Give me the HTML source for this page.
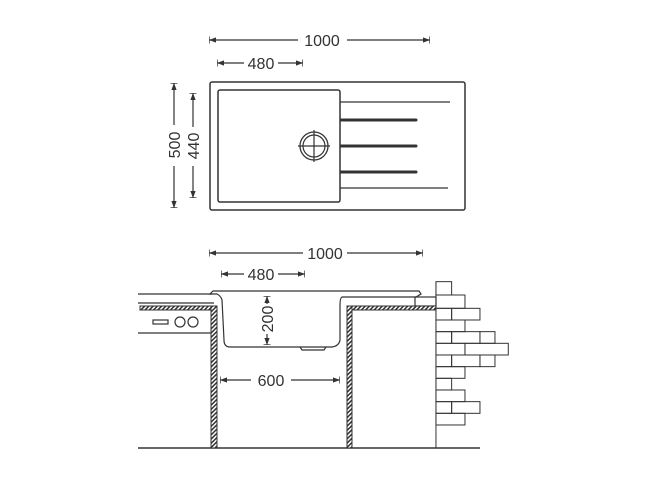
<!DOCTYPE html>
<html><head><style>body{margin:0;background:#fff}svg{display:block}text{font-family:"Liberation Sans",sans-serif;font-size:16px;fill:#333}</style></head><body>
<svg width="650" height="500" viewBox="0 0 650 500" xmlns="http://www.w3.org/2000/svg">
<defs>
<pattern id="h" width="3" height="3" patternUnits="userSpaceOnUse" patternTransform="rotate(45)"><rect width="3" height="3" fill="#fff"/><rect width="1.5" height="3" fill="#333"/></pattern>
<marker id="a" viewBox="0 0 8 8" refX="8" refY="4" markerWidth="6" markerHeight="6" orient="auto-start-reverse"><path d="M0,1 L8,4 L0,7z" fill="#333"/><path d="M8,0 V8" stroke="#333" stroke-width="1.5"/></marker>
</defs>
<g stroke="#333" stroke-width="1.2" fill="none">
<line x1="209" y1="40" x2="298" y2="40" marker-start="url(#a)"/><line x1="347" y1="40" x2="430" y2="40" marker-end="url(#a)"/>
<line x1="217" y1="63" x2="244" y2="63" marker-start="url(#a)"/><line x1="278" y1="63" x2="303" y2="63" marker-end="url(#a)"/>
<line x1="174" y1="83" x2="174" y2="125" marker-start="url(#a)"/><line x1="174" y1="166" x2="174" y2="208" marker-end="url(#a)"/>
<line x1="193" y1="93" x2="193" y2="127" marker-start="url(#a)"/><line x1="193" y1="166" x2="193" y2="198" marker-end="url(#a)"/>
<rect x="210" y="82" width="255" height="128" rx="2" stroke-width="1.5"/>
<rect x="218" y="90" width="122" height="112" rx="2" stroke-width="1.5"/>
<circle cx="314" cy="146" r="14" stroke-width="1.3"/><circle cx="314" cy="146" r="11"/>
<line x1="298" y1="146" x2="330" y2="146"/><line x1="314" y1="130" x2="314" y2="162"/>
<line x1="340" y1="102" x2="450" y2="102"/><line x1="340" y1="188" x2="448" y2="188"/>
<g stroke-width="3" stroke-linecap="round"><line x1="341" y1="120" x2="416" y2="120"/><line x1="341" y1="146" x2="416" y2="146"/><line x1="341" y1="172" x2="416" y2="172"/></g>
<line x1="209" y1="253" x2="303" y2="253" marker-start="url(#a)"/><line x1="347" y1="253" x2="423" y2="253" marker-end="url(#a)"/>
<line x1="221" y1="274" x2="244" y2="274" marker-start="url(#a)"/><line x1="278" y1="274" x2="305" y2="274" marker-end="url(#a)"/>
<line x1="267" y1="296" x2="267" y2="304" marker-start="url(#a)"/><line x1="267" y1="334" x2="267" y2="345" marker-end="url(#a)"/>
<line x1="220" y1="380" x2="251" y2="380" marker-start="url(#a)"/><line x1="291" y1="380" x2="340" y2="380" marker-end="url(#a)"/>
<line x1="138" y1="294" x2="212" y2="294"/><line x1="138" y1="303" x2="214" y2="303"/><line x1="138" y1="333" x2="212" y2="333"/>
<line x1="138" y1="448" x2="480" y2="448" stroke-width="1.5"/>
<rect x="153" y="320" width="15" height="4"/><circle cx="180" cy="322" r="5"/><circle cx="193" cy="322" r="5"/>
<path d="M210,294 L213,291 L419,291 L421,294 L416,297 L342,297 Q340,298 340,305 L340,340 Q339,346 332,347 L230,347 Q224,347 224,340 L222,300 Q221,296 217,294 Z"/>
<path d="M300,347 L302,350 L324,350 L326,347"/>
<rect x="415" y="297" width="21" height="9"/>
</g>
<g stroke="#333" stroke-width="1">
<rect x="140" y="306" width="72" height="4" fill="url(#h)"/>
<rect x="211" y="306" width="6" height="142" fill="url(#h)"/>
<rect x="347" y="306" width="89" height="4" fill="url(#h)"/>
<rect x="347" y="306" width="5" height="142" fill="url(#h)"/>
</g>
<g transform="translate(130,240) scale(0.3333)" stroke="#333" stroke-width="3" fill="none">
<line x1="918" y1="125" x2="918" y2="625"/>
<rect x="918" y="125" width="47" height="40"/>
<rect x="918" y="165" width="87" height="40"/>
<rect x="918" y="205" width="47" height="35"/><rect x="965" y="205" width="85" height="35"/>
<rect x="918" y="240" width="87" height="35"/>
<rect x="918" y="275" width="47" height="35"/><rect x="965" y="275" width="85" height="35"/><rect x="1050" y="275" width="45" height="35"/>
<rect x="918" y="310" width="87" height="35"/><rect x="1005" y="310" width="130" height="35"/>
<rect x="918" y="345" width="47" height="35"/><rect x="965" y="345" width="85" height="35"/><rect x="1050" y="345" width="45" height="35"/>
<rect x="918" y="380" width="87" height="35"/>
<rect x="918" y="415" width="47" height="35"/>
<rect x="918" y="450" width="87" height="35"/>
<rect x="918" y="485" width="47" height="35"/><rect x="965" y="485" width="85" height="35"/>
<rect x="918" y="520" width="87" height="35"/>
</g>
<g>
<text x="322" y="46" text-anchor="middle">1000</text>
<text x="261" y="69" text-anchor="middle">480</text>
<text transform="translate(180,145) rotate(-90)" text-anchor="middle">500</text>
<text transform="translate(199,146) rotate(-90)" text-anchor="middle">440</text>
<text x="325" y="259" text-anchor="middle">1000</text>
<text x="261" y="280" text-anchor="middle">480</text>
<text transform="translate(273,319) rotate(-90)" text-anchor="middle">200</text>
<text x="271" y="386" text-anchor="middle">600</text>
</g>
</svg>
</body></html>
